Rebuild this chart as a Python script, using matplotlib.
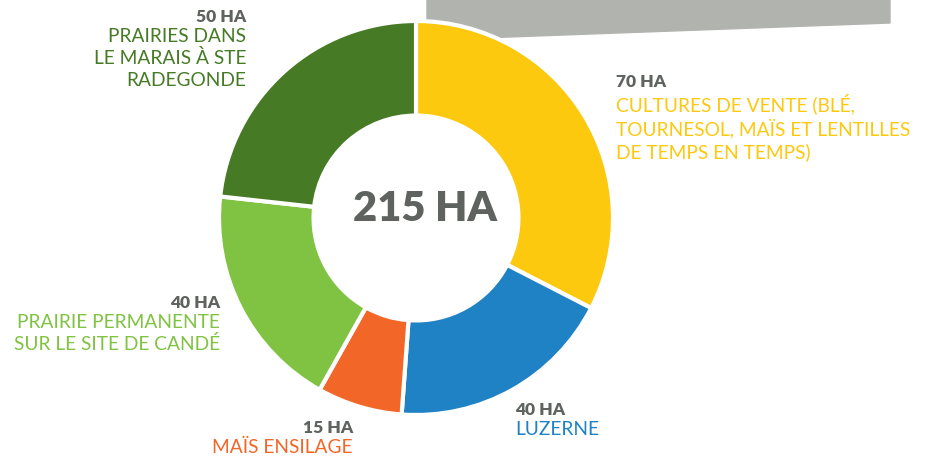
import matplotlib.pyplot as plt
from matplotlib.patches import Polygon

# data
values = [70, 40, 15, 40, 50]
amounts = ["70 HA", "40 HA", "15 HA", "40 HA", "50 HA"]
names = ["CULTURES DE VENTE (BLÉ,\nTOURNESOL, MAÏS ET LENTILLES\nDE TEMPS EN TEMPS)",
         "LUZERNE",
         "MAÏS ENSILAGE",
         "PRAIRIE PERMANENTE\nSUR LE SITE DE CANDÉ",
         "PRAIRIES DANS\nLE MARAIS À STE\nRADEGONDE"]
colors = ["#FDC90F", "#1F82C4", "#F26628", "#80C342", "#467A25"]
total_label = "215 HA"

grey = "#5F635F"
font = "Lato"

fig = plt.figure(figsize=(9.27, 4.6), dpi=100)
ax = fig.add_axes([0, 0, 1, 1])

# grey banner at the top, behind the ring
ax.add_patch(Polygon([(427, 460), (890, 460), (890, 436), (427, 419)],
                     closed=True, color="#B1B3AF", zorder=0))

cx, cy, R = 416, 241, 197
ax.pie(values, colors=colors, startangle=90, counterclock=False,
       center=(cx, cy), radius=R, frame=True,
       wedgeprops=dict(width=R * 0.48, edgecolor="white", linewidth=3))
ax.set_xlim(0, 927)
ax.set_ylim(0, 460)
ax.axis("off")

ax.text(425, 251, total_label, ha="center", va="center", fontsize=30,
        fontweight="heavy", color=grey, family=font)

# label positions: (x, y of amount, alignment)
spots = [(616, 378, "left"), (515, 50, "left"), (353, 32, "right"),
         (220, 157, "right"), (246, 443, "right")]
for amt, name, col, (x, y, ha) in zip(amounts, names, colors, spots):
    ax.text(x, y, amt, ha=ha, va="center", fontsize=12.5, fontweight="heavy",
            color=grey, family=font)
    ax.text(x, y - 11, name, ha=ha, va="top", fontsize=13.8, color=col,
            family=font, linespacing=1.3, multialignment=ha)

fig.savefig("out.png", dpi=100)
